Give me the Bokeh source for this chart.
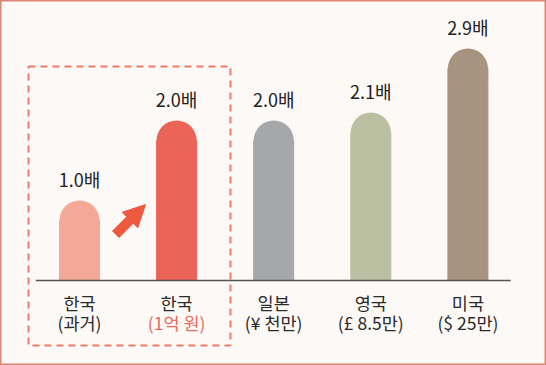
from bokeh.plotting import figure
from bokeh.models import Range1d, BoxAnnotation, Arrow, NormalHead, ColumnDataSource
from bokeh.core.properties import value
from bokeh.embed import file_html
from bokeh.resources import INLINE

# ---- data ----
countries = ["한국", "한국", "일본", "영국", "미국"]
sublabels = ["(과거)", "(1억 원)", "(¥ 천만)", "(£ 8.5만)", "($ 25만)"]
ratios = [1.0, 2.0, 2.0, 2.1, 2.9]
value_labels = ["1.0배", "2.0배", "2.0배", "2.1배", "2.9배"]
bar_colors = ["#f4a897", "#ec6358", "#a6a7a9", "#bcc0a2", "#a89280"]
sub_colors = ["#2a2a2a", "#ea6a5c", "#2a2a2a", "#2a2a2a", "#2a2a2a"]

W, H = 546, 365
PX_X = 97.1   # px per category
PX_Y = 80.0   # px per unit ratio
x0 = -79 / PX_X
y0 = -(H - 280) / PX_Y

p = figure(width=W, height=H, output_backend="svg", toolbar_location=None,
           x_range=Range1d(x0, x0 + W / PX_X), y_range=Range1d(y0, y0 + H / PX_Y),
           min_border=0)
p.axis.visible = False
p.grid.visible = False
p.background_fill_color = "#fdf9f6"
p.border_fill_color = "#fdf9f6"
p.outline_line_color = "#dc8475"
p.outline_line_width = 2

xs = list(range(len(ratios)))
r = 20 / PX_Y  # cap radius in data units
bw = 40 / PX_X

src = ColumnDataSource(dict(x=xs, top=[v - r for v in ratios], cy=[v - r for v in ratios],
                            color=bar_colors, lab=value_labels,
                            ly=[v + 22 / PX_Y for v in ratios],
                            c1=countries, c2=sublabels, sc=sub_colors))

p.vbar(x="x", top="top", bottom=0, width=bw, color="color", source=src)
p.scatter(x="x", y="cy", size=40, marker="circle", color="color", line_width=0, source=src)

# baseline
p.segment(x0=[-0.45], y0=[0], x1=[4.44], y1=[0], line_color="#555555", line_width=1.5)

font = value("Noto Sans CJK KR")
p.text(x="x", y="ly", text="lab", source=src, text_font=font, text_font_size="18px",
       text_align="center", text_baseline="middle", text_color="#222222")
p.text(x="x", y=-22 / PX_Y, text="c1", source=src, text_font=font, text_font_size="17.5px",
       text_align="center", text_baseline="middle", text_color="#2a2a2a")
p.text(x="x", y=-42 / PX_Y, text="c2", source=src, text_font=font, text_font_size="17.5px",
       text_align="center", text_baseline="middle", text_color="sc")

# dashed highlight box around the two Korean bars
p.add_layout(BoxAnnotation(left=0 - 0.525, right=1 + 0.555, bottom=-65 / PX_Y, top=214 / PX_Y,
                           fill_alpha=0, line_color="#f07a68", line_alpha=1.0,
                           line_width=2, line_dash="7 5"))

# arrow between the two Korean bars
p.add_layout(Arrow(x_start=0.371, y_start=0.575, x_end=0.68, y_end=0.95,
                   line_color="#ee5a40", line_width=10,
                   end=NormalHead(size=22, fill_color="#ee5a40", line_color="#ee5a40", line_width=1)))

open("out.html", "w").write(file_html(p, INLINE))
